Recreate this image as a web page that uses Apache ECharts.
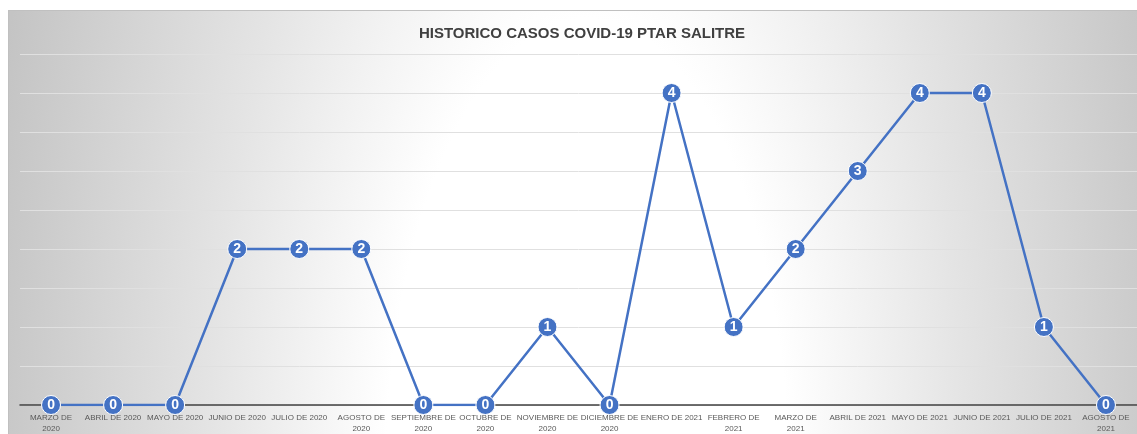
<!DOCTYPE html>
<html>
<head>
<meta charset="utf-8">
<script src="https://cdn.jsdelivr.net/npm/echarts@6/dist/echarts.min.js"></script>
<style>
html,body{margin:0;padding:0;width:1137px;height:434px;overflow:hidden;background:#ffffff;}
#bg{position:absolute;left:8px;top:10px;width:1140px;height:430px;border-top:1px solid #c0c0c0;border-left:1px solid #c0c0c0;
background:radial-gradient(ellipse 610px 1400px at 578px 470px, #ffffff 0%, #ffffff 33%, #e4e4e4 62%, #c4c4c4 100%);}
#chart{position:absolute;left:0;top:0;width:1137px;height:434px;}
</style>
</head>
<body>
<div id="bg"></div>
<div id="chart"></div>
<script>
const title = 'HISTORICO CASOS COVID-19 PTAR SALITRE';
const categories = [
  'MARZO DE\n2020', 'ABRIL DE 2020', 'MAYO DE 2020', 'JUNIO DE 2020', 'JULIO DE 2020',
  'AGOSTO DE\n2020', 'SEPTIEMBRE DE\n2020', 'OCTUBRE DE\n2020', 'NOVIEMBRE DE\n2020',
  'DICIEMBRE DE\n2020', 'ENERO DE 2021', 'FEBRERO DE\n2021', 'MARZO DE\n2021',
  'ABRIL DE 2021', 'MAYO DE 2021', 'JUNIO DE 2021', 'JULIO DE 2021', 'AGOSTO DE\n2021'
];
const casos = [0, 0, 0, 2, 2, 2, 0, 0, 1, 0, 4, 1, 2, 3, 4, 4, 1, 0];
const yMin = 0, yMax = 4.5, yStep = 0.5;

const chart = echarts.init(document.getElementById('chart'), null, {renderer: 'canvas'});
chart.setOption({
  backgroundColor: 'transparent',
  animation: false,
  title: {
    text: title, left: 577, top: 21, textAlign: 'center',
    textStyle: {fontFamily: 'Liberation Sans', fontSize: 15, fontWeight: 'bold', color: '#404040'}
  },
  grid: {left: 20, right: -2, top: 54, bottom: 29, containLabel: false},
  xAxis: {
    type: 'category', data: categories, boundaryGap: true,
    axisLine: {lineStyle: {color: '#404040', width: 1.5}},
    axisTick: {show: false},
    axisLabel: {interval: 0, margin: 7, fontFamily: 'Liberation Sans', fontSize: 8, color: '#595959', lineHeight: 11}
  },
  yAxis: {
    type: 'value', min: yMin, max: yMax, interval: yStep,
    axisLine: {show: false}, axisTick: {show: false}, axisLabel: {show: false},
    splitLine: {lineStyle: {color: '#e0e0e0', width: 1}}
  },
  series: [{
    type: 'line', data: casos,
    symbol: 'circle', symbolSize: 19,
    lineStyle: {color: '#4472C4', width: 2.5},
    itemStyle: {color: '#4472C4', borderColor: '#ffffff', borderWidth: 1},
    label: {show: true, position: 'inside', color: '#ffffff', fontFamily: 'Liberation Sans', fontSize: 14, fontWeight: 'bold'},
    z: 3
  }]
});
</script>
</body>
</html>
